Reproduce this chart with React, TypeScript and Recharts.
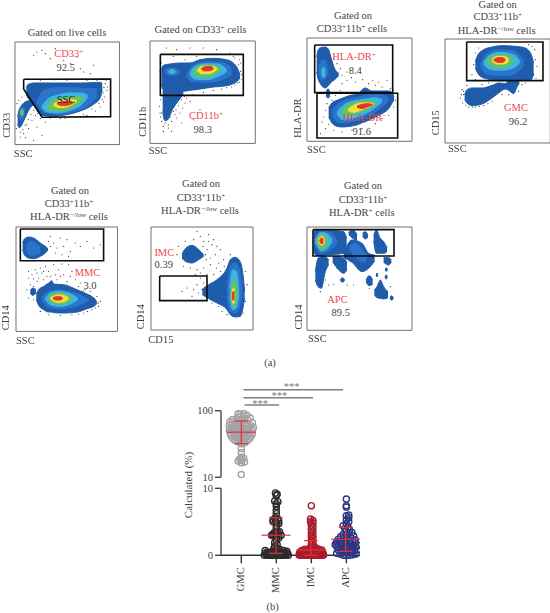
import React from 'react';
import { ComposedChart, Area, Line, Scatter, XAxis, YAxis, ZAxis, Label } from 'recharts';

type Row = [number, number, number];
type Pt = [number, number];

const SERIF = '"Liberation Serif", serif';
const LEVEL_COLORS = ['#1f5cab', '#2a74cc', '#3fb5dc', '#66c25e', '#f0e13f', '#e6352b'];

/* ---------- Panel 1: CD33 vs SSC ---------- */
const p1Main0: Row[] = [[78,262,282],[82,253,292],[90,250,300],[100,248,315],[110,248,330],[125,248,345],[160,248,348],[200,248,343],[240,248,332],[280,247,312],[300,246,292],[306,250,270]];
const p1Lobe0: Row[] = [[52,350,370],[56,330,382],[62,318,378],[70,308,362],[80,303,340],[90,300,322],[100,296,312],[105,298,305]];
const p1Lobe1: Row[] = [[56,335,345],[60,322,358],[66,320,356],[74,325,335]];
const p1Lobe2: Row[] = [[60,336,338],[63,328,346],[67,328,345],[70,335,338]];
const p1Main1: Row[] = [[110,305,307],[130,270,335],[170,262,342],[220,262,335],[260,265,318],[290,265,290]];
const p1Main2: Row[] = [[125,318,322],[140,298,335],[170,285,338],[210,278,330],[245,278,312],[262,285,292]];
const p1Main3: Row[] = [[140,318,322],[155,302,331],[185,293,332],[215,290,322],[240,288,305],[248,295,297]];
const p1Main4: Row[] = [[160,312,316],[175,302,322],[200,299,320],[220,298,310],[230,302,304]];
const p1Main5: Row[] = [[170,309,311],[185,305,316],[205,303,314],[218,306,308]];
const p1Gate: Pt[] = [[70,237],[331,236],[331,349],[125,351],[70,266],[70,237]];
const p1Dots: Pt[] = [[110,155],[125,150],[135,160],[165,145],[190,180],[210,190],[240,205],[250,215],[270,220],[280,195],[100,165],[230,170],[150,175],[305,235],[315,250],[320,270],[312,290],[310,305],[300,320],[285,332],[260,345],[240,350],[318,240],[322,260],[70,240],[85,235],[120,240],[160,238],[200,240],[260,240],[290,240],[65,290],[55,300],[60,395],[70,400],[85,385],[110,380],[125,405],[95,360],[105,345],[120,355],[75,375],[135,365],[180,355],[210,350],[50,310],[48,385],[75,412],[100,420],[60,410],[311,262],[309,278],[306,298],[296,310],[275,326],[250,342],[225,350],[195,354],[150,353],[112,340],[100,330],[92,342],[80,372],[68,388],[84,358]];

/* ---------- Panel 2: CD11b vs SSC ---------- */
const p2Main0: Row[] = [[484,210,255],[490,197,272],[510,193,275],[540,190,276],[570,190,272],[600,180,268],[640,176,262],[680,180,258],[700,190,252],[712,205,245],[720,225,235]];
const p2Tail0: Row[] = [[488,275,335],[494,272,362],[500,272,362],[520,272,325],[540,272,297],[550,270,284]];
const p2Spot1: Row[] = [[495,215,218],[505,206,227],[520,205,228],[540,214,218]];
const p2Spot2: Row[] = [[505,215,217],[512,210,222],[520,210,221],[527,215,217]];
const p2Peak1: Row[] = [[560,228,231],[575,200,245],[620,186,248],[665,188,240],[695,205,225]];
const p2Peak2: Row[] = [[570,222,226],[585,200,238],[620,192,240],[655,193,230],[680,210,216]];
const p2Peak3: Row[] = [[580,217,220],[595,201,231],[622,196,232],[648,198,222],[662,209,213]];
const p2Peak4: Row[] = [[592,210,213],[605,200,222],[625,199,222],[645,202,214],[652,207,209]];
const p2Peak5: Row[] = [[604,207,209],[615,201,214],[630,200,213],[640,205,208]];
const p2Gate: Pt[] = [[481,164],[730,164],[730,287],[481,287],[481,164]];
const p2Dots: Pt[] = [[722,190],[730,210],[718,180],[705,175],[725,225],[712,250],[695,262],[665,268],[640,272],[610,278],[580,285],[560,295],[555,310],[548,325],[540,340],[525,345],[515,365],[505,375],[495,370],[485,365],[490,380],[530,355],[520,335],[545,300],[570,305],[480,340],[482,300],[478,320],[500,145],[530,150],[570,145],[610,145],[650,150],[690,160],[700,170],[520,170],[555,180],[590,170],[640,165],[505,385],[490,395],[515,395],[545,370],[580,360],[600,330],[480,215],[484,190],[716,195],[722,215],[726,240],[718,248],[705,256],[680,264],[553,290],[535,318],[528,330],[512,352],[484,340],[482,352]];

/* ---------- Panel 3: HLA-DR vs SSC ---------- */
const p3Top0: Row[] = [[124,170,215],[128,150,235],[135,142,250],[150,140,263],[160,148,255],[168,175,245],[178,205,238],[190,218,226]];
const p3Tail0: Row[] = [[152,278,288],[158,265,293],[164,278,288]];
const p3Top1: Row[] = [[130,205,212],[140,180,240],[150,180,235],[158,210,215]];
const p3Top2: Row[] = [[138,213,217],[145,200,232],[150,212,222]];
const p3Low0: Row[] = [[160,322,350],[170,308,368],[185,300,378],[200,294,380],[225,285,378],[250,280,372],[258,270,368],[270,263,364],[290,272,355],[320,272,340],[340,272,325],[352,280,305],[356,290,298]];
const p3Low1: Row[] = [[170,335,340],[185,313,365],[210,300,368],[250,290,355],[290,282,340],[325,285,315],[340,295,300]];
const p3Low2: Row[] = [[185,335,340],[200,318,358],[235,302,352],[270,296,340],[300,292,322],[320,298,304]];
const p3Low3: Row[] = [[198,335,338],[215,315,347],[245,306,338],[280,300,325],[300,306,310]];
const p3Low4: Row[] = [[218,327,331],[235,315,336],[260,308,328],[285,308,318],[295,311,314]];
const p3Low5: Row[] = [[245,318,321],[260,312,325],[280,310,318],[292,313,315]];
const p3GateA: Pt[] = [[118,134],[352,134],[352,277],[118,277],[118,134]];
const p3GateB: Pt[] = [[125,279],[367,279],[367,413],[125,413],[125,279]];
const p3Dots: Pt[] = [[355,270],[345,265],[320,260],[300,255],[280,250],[240,245],[215,240],[200,250],[195,270],[180,285],[170,300],[155,310],[150,330],[145,350],[160,372],[175,390],[200,395],[230,390],[260,385],[300,370],[320,355],[340,345],[355,320],[360,300],[292,240],[310,245],[200,225],[215,215],[195,205],[185,190],[175,175],[335,240],[262,238],[228,232],[140,365],[150,385],[135,400]];

/* ---------- Panel 4: CD15 vs SSC ---------- */
const p4Top0: Row[] = [[600,185,205],[608,165,222],[625,150,235],[650,142,240],[680,138,243],[720,140,243],[750,145,242],[768,165,240],[775,190,222]];
const p4Low0: Row[] = [[568,285,300],[575,270,310],[590,265,318],[620,265,313],[650,257,295],[670,250,280],[690,252,268],[700,244,272],[715,244,282],[725,244,262],[732,242,250]];
const p4Top1: Row[] = [[615,195,200],[630,165,220],[665,150,228],[710,152,225],[745,180,200]];
const p4Top2: Row[] = [[625,187,193],[645,165,210],[675,158,212],[715,165,205],[733,183,189]];
const p4Top3: Row[] = [[635,183,187],[655,168,202],[680,165,203],[705,172,193],[715,180,185]];
const p4Top4: Row[] = [[650,180,184],[665,170,193],[685,170,193],[700,178,186]];
const p4Top5: Row[] = [[655,180,182],[668,174,188],[682,174,188],[690,179,182]];
const p4Gate: Pt[] = [[574,127],[803,127],[803,243],[574,243],[574,127]];
const p4Dots: Pt[] = [[780,180],[785,200],[778,150],[770,140],[760,135],[775,225],[782,235],[560,270],[555,295],[562,310],[580,322],[600,322],[625,318],[650,305],[680,285],[700,285],[730,275],[740,255],[750,250],[610,145],[600,160],[595,195],[590,225],[600,240],[640,250],[620,255],[575,258],[565,285],[565,275],[558,285],[572,316],[592,322],[612,320],[638,312]];

/* ---------- Panel 5: CD14 vs SSC ---------- */
const p5Top0: Row[] = [[67,205,225],[72,193,240],[85,187,250],[100,190,252],[120,205,245],[135,215,235],[143,222,226]];
const p5Top1: Row[] = [[78,212,228],[90,200,242],[105,205,240],[120,220,232]];
const p5Bump0: Row[] = [[90,348,356],[97,340,362],[107,345,355]];
const p5Low0: Row[] = [[108,358,375],[115,345,392],[130,335,405],[145,325,412],[155,318,412],[160,328,414],[190,330,415],[230,345,412],[260,358,402],[285,375,392],[290,383,385]];
const p5Low1: Row[] = [[125,368,372],[140,352,395],[170,345,402],[215,352,398],[250,365,385],[265,375,377]];
const p5Low2: Row[] = [[135,370,372],[150,355,390],[175,350,395],[205,355,390],[232,370,375]];
const p5Low3: Row[] = [[145,370,372],[155,360,384],[175,355,388],[200,360,384],[215,370,374]];
const p5Low4: Row[] = [[150,370,372],[160,364,379],[175,360,383],[195,364,379],[205,370,372]];
const p5Low5: Row[] = [[158,370,372],[168,366,376],[180,366,376],[187,370,372]];
const p5Gate: Pt[] = [[60,163],[310,163],[310,258],[60,258],[60,163]];
const p5Dots: Pt[] = [[145,200],[150,215],[160,205],[170,220],[180,190],[190,215],[200,195],[210,230],[225,205],[240,215],[260,200],[280,220],[300,210],[150,185],[165,235],[185,240],[205,245],[85,290],[95,300],[105,285],[115,310],[125,295],[135,275],[145,290],[160,270],[175,285],[190,300],[205,270],[215,290],[225,315],[240,325],[255,345],[270,350],[290,365],[300,380],[295,395],[275,405],[250,415],[90,330],[85,370],[80,345],[100,375],[110,320],[130,315],[170,315],[200,320],[120,410],[145,420],[180,422],[215,420],[100,312],[95,355],[85,310],[120,280],[150,305],[185,268],[210,305],[110,295],[235,335],[250,348],[268,362],[283,372],[294,385],[285,400],[262,410],[235,418],[180,305],[165,300],[140,305],[130,290],[100,335]];

/* ---------- Panel 6: CD14 vs CD15 ---------- */
const p6Top0: Row[] = [[545,238,250],[555,222,260],[575,212,265],[595,225,255],[610,240,245]];
const p6Right0: Row[] = [[606,343,360],[625,330,372],[650,315,385],[680,280,405],[690,255,420],[705,248,427],[720,262,425],[728,300,400],[733,350,370]];
const p6Right1: Row[] = [[680,345,365],[690,275,412],[705,265,415],[718,290,395],[725,345,360]];
const p6Right2: Row[] = [[688,340,365],[697,285,405],[708,290,400],[716,350,360]];
const p6Right3: Row[] = [[692,355,365],[699,315,395],[706,325,385],[710,355,365]];
const p6Right4: Row[] = [[694,360,368],[699,340,387],[703,345,380]];
const p6Right5: Row[] = [[695,360,366],[699,350,378],[702,358,368]];
const p6Gate: Pt[] = [[478,304],[620,304],[620,378],[478,378],[478,304]];
const p6Dots: Pt[] = [[590,170],[600,185],[610,200],[625,180],[635,210],[640,195],[620,225],[645,240],[660,225],[670,255],[655,265],[630,270],[610,280],[590,285],[570,280],[550,275],[535,215],[555,200],[580,195],[620,300],[600,310],[590,330],[580,345],[560,340],[545,350],[610,325],[595,355],[575,365],[660,290],[640,300],[690,240],[735,290],[740,330],[735,380],[728,415],[665,410],[680,420],[655,395],[635,385],[560,240],[530,240],[615,240],[650,215],[630,250],[600,295],[585,300],[605,345],[625,200],[608,215],[618,255],[648,280],[672,275]];

/* ---------- Panel 7: CD14 vs SSC (sparse) ---------- */
const p7A0: Row[] = [[115,170,230],[125,165,242],[150,165,240],[180,167,238],[205,170,235],[214,190,232]];
const p7B0: Row[] = [[220,172,178],[232,165,190],[245,178,198]];
const p7C0: Row[] = [[262,174,183],[270,170,192],[278,180,186]];
const p7D0: Row[] = [[295,182,198],[303,165,235],[315,190,235],[325,200,235],[335,218,230]];
const p7E0: Row[] = [[120,290,315],[128,250,335],[138,245,340],[150,245,290],[160,255,270]];
const p7F0: Row[] = [[172,245,260],[190,245,285],[205,250,295],[215,262,285]];
const p7G0: Row[] = [[205,235,248],[230,195,262],[260,205,290],[280,235,280],[298,240,258]];
const p7H0: Row[] = [[325,248,262],[340,248,270],[348,255,262]];
const p7I0: Row[] = [[195,314,316],[201,308,322],[208,314,316]];
const p7J0: Row[] = [[272,315,322],[282,302,332],[292,315,328]];
const p7K0: Row[] = [[297,345,360],[305,335,368],[315,315,370],[325,335,372],[338,350,368]];
const p7L0: Row[] = [[302,297,302],[305,295,305],[308,297,302]];
const p7M0: Row[] = [[329,282,286],[333,279,288],[337,282,286]];
const p7N0: Row[] = [[344,367,371],[349,362,376],[354,367,371]];
const p7O0: Row[] = [[329,304,308],[333,300,312],[336,304,308]];
const p7G1: Row[] = [[222,215,222],[240,205,245],[262,225,260],[275,245,255]];
const p7A1: Row[] = [[118,195,205],[135,168,235],[165,172,225],[185,198,208]];
const p7A2: Row[] = [[120,195,200],[138,172,228],[160,180,215],[170,195,200]];
const p7A3: Row[] = [[125,195,200],[140,178,222],[155,190,210]];
const p7A4: Row[] = [[130,195,200],[139,183,212],[148,195,201]];
const p7A5: Row[] = [[133,196,199],[139,188,207],[144,195,200]];
const p7Gate: Pt[] = [[113,164],[356,164],[356,243],[113,243],[113,164]];
const p7Dots: Pt[] = [[175,328],[235,330],[150,315],[215,330],[135,350],[345,335],[282,340],[160,330]];

/* ---------- Part (b): measured percentages per group ---------- */
const groupNames = ['GMC', 'MMC', 'IMC', 'APC'];
const gmcValues = [91,89.5,88,85,83,80,78,76,75,73.4,73,71,71,68.4,68,66,66,64.5,64,63,62,61,60.5,60,59,58,57.5,57,56,55.5,55,54,53.5,53,52,51.5,51,50,49.5,49,48,47.5,47,46.5,46,45.5,45,44.5,44,43,42.5,42,41.5,41,40.5,40,39.5,39,38.5,38,37,36.5,36,35,34.5,34,33,32,27,23.5,20,19.3,18.8,18.2,17.6,17,16.6,11];
const mmcValues = [0,0,0,0,0,0,0,0,0,0,0,0,0,0,0,0.1,0.1,0.1,0.1,0.1,0.2,0.2,0.2,0.2,0.3,0.3,0.3,0.3,0.4,0.4,0.4,0.5,0.5,0.5,0.6,0.6,0.7,0.7,0.8,0.9,1,1.1,1.3,1.6,1.9,2.3,2.6,2.8,2.9,3,3,3,3.1,3.2,3.3,3.4,3.5,3.6,4,4.4,4.7,4.9,5,5.1,5.2,5.3,5.4,5.6,6.2,6.7,7.3,7.7,8,8.1,8.9,9.1,9.3];
const imcValues = [0,0,0,0,0,0,0,0,0,0,0,0,0,0,0,0.1,0.1,0.1,0.1,0.1,0.1,0.1,0.2,0.2,0.2,0.2,0.2,0.2,0.2,0.3,0.3,0.3,0.3,0.3,0.3,0.4,0.4,0.4,0.4,0.4,0.5,0.5,0.5,0.5,0.6,0.6,0.6,0.6,0.7,0.7,0.7,0.8,0.8,0.8,0.9,0.9,1,1,1.1,1.2,1.4,1.6,1.9,2.2,2.5,2.8,3,3.3,3.6,3.9,4.2,4.5,4.8,5,5.2,5.4,7.4];
const apcValues = [0,0,0,0.1,0.2,0.2,0.3,0.4,0.5,0.5,0.6,0.7,0.8,0.8,0.9,1,1,1.1,1.2,1.2,1.3,1.3,1.4,1.4,1.5,1.5,1.6,1.6,1.7,1.7,1.8,1.8,1.9,1.9,2,2,2.1,2.1,2.2,2.2,2.3,2.4,2.5,2.6,2.7,2.8,2.9,3,3.1,3.3,3.4,3.6,3.8,4,4.2,4.4,4.7,5,5.3,5.6,5.9,6,7.2,7.4,8.4];
const means = [47.6, 3.0, 0.8, 2.4];
const uppers = [70, 5.6, 2.2, 4.2];
const lowers = [32, 0.3, 0, 0.6];
const groupColors = ['#a2a2a7', '#2c2c2e', '#a81c2e', '#2b3783'];
const brackets: [number, number, number][] = [[1.06, 3.91, 81], [1.06, 3.05, 49], [1.09, 2.08, 20]];

/* Column outline of each swarm: [value, half width]. */
const gmcWidth: Pt[] = [[11,0],[16.6,3.5],[20,3],[23,0],[27,0],[31,1],[33,4],[38,9],[47,12],[64,12],[80,9],[91,3]];
const mmcWidth: Pt[] = [[0,12],[0.9,11],[1.1,3],[2,1.5],[2.6,3],[3,5],[3.6,3],[4.2,1.5],[5,4],[5.6,3],[6,1],[8,2],[9.3,1]];
const imcWidth: Pt[] = [[0,12.5],[0.9,11],[1.2,3],[3,2],[5.4,2],[7.4,0]];
const apcWidth: Pt[] = [[0,9],[0.6,11.5],[1.5,11.5],[2.5,9],[3.5,6],[4.5,4],[6,3],[7,1],[8.4,0]];

const PX_PER_GROUP = 35;

function widthAt(outline: Pt[], v: number) {
  if (v <= outline[0][0]) return outline[0][1];
  for (let i = 1; i < outline.length; i++) {
    const [a, wa] = outline[i - 1], [b, wb] = outline[i];
    if (v <= b) return wa + ((v - a) / (b - a)) * (wb - wa);
  }
  return outline[outline.length - 1][1];
}

// Prism-like column scatter: places each value as close to the column centre as it can,
// spreading sideways only up to the column's read outline at that value.
function swarm(values: number[], group: number, toPx: (v: number) => number, gap: number, outline: Pt[]) {
  const placed: { x: number; y: number; px: number; off: number }[] = [];
  const sorted = [...values].sort((a, b) => a - b);
  for (const v of sorted) {
    const py = toPx(v);
    const limit = widthAt(outline, v);
    let best = 0, bestD = -1;
    for (let i = 0; ; i++) {
      const mag = Math.ceil(i / 2) * 0.8;
      if (mag > limit) break;
      const cand = i % 2 ? mag : -mag;
      let minD = Infinity;
      for (const p of placed) minD = Math.min(minD, Math.hypot(p.off - cand, p.px - py));
      if (minD >= gap) { best = cand; bestD = Infinity; break; }
      if (minD > bestD) { bestD = minD; best = cand; }
    }
    placed.push({ x: group + best / PX_PER_GROUP, y: v, px: py, off: best });
  }
  return placed;
}
const toLogPx = (v: number) => -67 * Math.log10(v);
const toLinPx = (v: number) => -6.7 * v;

const rowsOf = (rows: Row[]) => rows.map(([x, a, b]) => ({ x, band: [a, b] }));
const ptsOf = (pts: Pt[]) => pts.map(([x, y]) => ({ x, y }));

const Speck = (p: any) => <circle cx={p.cx} cy={p.cy} r={0.55} fill="#1c1c1c" />;

type Blob = { level: number; rows: Row[] };
type PanelProps = {
  frame: [number, number, number, number];
  xDom: [number, number];
  yDom: [number, number];
  blobs: Blob[];
  gates: Pt[][];
  dots: Pt[];
  xName: string;
  yName: string;
  xLab: [number, number];
  yLab: [number, number];
};

const LEFT_PAD = 16;
const BOTTOM_PAD = 20;

function FlowPanel({ frame, xDom, yDom, blobs, gates, dots, xName, yName, xLab, yLab }: PanelProps) {
  const [l, t, r, b] = frame;
  const w = r - l, h = b - t;
  const ox = l - LEFT_PAD, oy = t - 1;
  const outline: Pt[] = [[xDom[0], yDom[0]], [xDom[1], yDom[0]], [xDom[1], yDom[1]], [xDom[0], yDom[1]], [xDom[0], yDom[0]]];
  return (
    <div style={{ position: 'absolute', left: ox, top: oy, filter: 'blur(0.35px)' }}>
      <ComposedChart width={w + LEFT_PAD + 1} height={h + 1 + BOTTOM_PAD} margin={{ top: 1, right: 1, left: 0, bottom: 0 }}>
        <XAxis type="number" dataKey="x" domain={xDom} tick={false} axisLine={false} tickLine={false} height={BOTTOM_PAD}>
          <Label value={xName} content={() => (
            <text x={xLab[0] - ox} y={xLab[1] - oy} fontFamily={SERIF} fontSize={10.5} fill="#3d3d3d" dominantBaseline="middle">{xName}</text>
          )} />
        </XAxis>
        <YAxis type="number" domain={yDom} reversed tick={false} axisLine={false} tickLine={false} width={LEFT_PAD}>
          <Label value={yName} content={() => (
            <text transform={`translate(${yLab[0] - ox},${yLab[1] - oy}) rotate(-90)`} fontFamily={SERIF} fontSize={10.5} fill="#3d3d3d" textAnchor="middle" dominantBaseline="middle">{yName}</text>
          )} />
        </YAxis>
        <ZAxis range={[2, 2]} />
        <Line data={ptsOf(outline)} dataKey="y" type="linear" dot={false} stroke="#6f6f6f" strokeWidth={1} isAnimationActive={false} />
        <Scatter data={ptsOf(dots)} dataKey="y" shape={Speck} isAnimationActive={false} />
        {blobs.map((bl, i) => (
          <Area key={i} data={rowsOf(bl.rows)} dataKey="band" type="monotone" fill={LEVEL_COLORS[bl.level]} fillOpacity={1} stroke={LEVEL_COLORS[bl.level]} strokeWidth={1} dot={false} activeDot={false} isAnimationActive={false} />
        ))}
        {gates.map((g, i) => (
          <Line key={i} data={ptsOf(g)} dataKey="y" type="linear" dot={false} stroke="#0c0c0c" strokeWidth={1.6} isAnimationActive={false} />
        ))}
      </ComposedChart>
    </div>
  );
}

const lv = (level: number, rows: Row[]): Blob => ({ level, rows });

const panels: PanelProps[] = [
  { frame: [14.7, 41.7, 119.3, 144.3], xDom: [44, 358], yDom: [125, 433],
    blobs: [lv(0, p1Lobe0), lv(1, p1Lobe1), lv(3, p1Lobe2), lv(0, p1Main0), lv(1, p1Main1), lv(2, p1Main2), lv(3, p1Main3), lv(4, p1Main4), lv(5, p1Main5)],
    gates: [p1Gate], dots: p1Dots, xName: 'SSC', yName: 'CD33', xLab: [13.5, 154], yLab: [7, 125] },
  { frame: [150, 41.3, 255.3, 143.7], xDom: [450, 766], yDom: [124, 431],
    blobs: [lv(0, p2Tail0), lv(0, p2Main0), lv(1, p2Spot1), lv(2, p2Spot2), lv(1, p2Peak1), lv(2, p2Peak2), lv(3, p2Peak3), lv(4, p2Peak4), lv(5, p2Peak5)],
    gates: [p2Gate], dots: p2Dots, xName: 'SSC', yName: 'CD11b', xLab: [148.7, 152], yLab: [143.3, 122] },
  { frame: [306.7, 37.7, 411.7, 141], xDom: [95, 410], yDom: [113, 423],
    blobs: [lv(0, p3Top0), lv(0, p3Tail0), lv(1, p3Top1), lv(2, p3Top2), lv(0, p3Low0), lv(1, p3Low1), lv(2, p3Low2), lv(3, p3Low3), lv(4, p3Low4), lv(5, p3Low5)],
    gates: [p3GateA, p3GateB], dots: p3Dots, xName: 'SSC', yName: 'HLA-DR', xLab: [306.7, 150], yLab: [298, 118] },
  { frame: [444.7, 39.3, 550, 143.3], xDom: [509, 825], yDom: [118, 430],
    blobs: [lv(0, p4Low0), lv(0, p4Top0), lv(1, p4Top1), lv(2, p4Top2), lv(3, p4Top3), lv(4, p4Top4), lv(5, p4Top5)],
    gates: [p4Gate], dots: p4Dots, xName: 'SSC', yName: 'CD15', xLab: [447.7, 150], yLab: [436, 123] },
  { frame: [15.7, 227.3, 117.3, 331.7], xDom: [47, 352], yDom: [157, 470],
    blobs: [lv(0, p5Top0), lv(1, p5Top1), lv(0, p5Bump0), lv(0, p5Low0), lv(1, p5Low1), lv(2, p5Low2), lv(3, p5Low3), lv(4, p5Low4), lv(5, p5Low5)],
    gates: [p5Gate], dots: p5Dots, xName: 'SSC', yName: 'CD14', xLab: [15.7, 342], yLab: [6, 318] },
  { frame: [150.7, 227.3, 252.7, 330.3], xDom: [452, 758], yDom: [157, 466],
    blobs: [lv(0, p6Top0), lv(0, p6Right0), lv(1, p6Right1), lv(2, p6Right2), lv(3, p6Right3), lv(4, p6Right4), lv(5, p6Right5)],
    gates: [p6Gate], dots: p6Dots, xName: 'CD15', yName: 'CD14', xLab: [148, 340.7], yLab: [141.7, 317] },
  { frame: [306.7, 227, 411.7, 330.3], xDom: [95, 410], yDom: [156, 466],
    blobs: [lv(0, p7A0), lv(0, p7B0), lv(0, p7C0), lv(0, p7D0), lv(0, p7E0), lv(0, p7F0), lv(0, p7G0), lv(1, p7G1), lv(0, p7H0), lv(0, p7I0), lv(0, p7J0), lv(0, p7K0), lv(0, p7L0), lv(0, p7M0), lv(0, p7N0), lv(0, p7O0), lv(1, p7A1), lv(2, p7A2), lv(3, p7A3), lv(4, p7A4), lv(5, p7A5)],
    gates: [p7Gate], dots: p7Dots, xName: 'SSC', yName: 'CD14', xLab: [307.7, 340], yLab: [299, 317] },
];

const Sup = ({ children }: { children: React.ReactNode }) => (
  <span style={{ fontSize: '0.68em', verticalAlign: '0.42em', lineHeight: 0 }}>{children}</span>
);
const Cd33Cd11 = () => <>CD33<Sup>+</Sup>11b<Sup>+</Sup></>;
const LowCells = () => <>HLA-DR<Sup>−/<i>low</i></Sup> cells</>;
const PosCells = () => <>HLA-DR<Sup>+</Sup> cells</>;

const GREY = '#444';
const RED = '#ec4a50';

const captions: [number, number, React.ReactNode, string?][] = [
  [67, 33, 'Gated on live cells'],
  [200.5, 30, <>Gated on CD33<Sup>+</Sup> cells</>],
  [353, 16, 'Gated on'], [352, 29.3, <><Cd33Cd11 /> cells</>],
  [497.7, 5, 'Gated on'], [497.8, 17.3, <Cd33Cd11 />], [496.7, 31, <LowCells />],
  [70, 191, 'Gated on'], [69, 204.3, <Cd33Cd11 />], [69, 217.3, <LowCells />],
  [201, 184.3, 'Gated on'], [201, 197.7, <Cd33Cd11 />], [200, 211, <LowCells />],
  [363, 186, 'Gated on'], [363, 199.7, <Cd33Cd11 />], [361.7, 213.3, <PosCells />],
  [68.7, 54, <>CD33<Sup>+</Sup></>, RED], [65.8, 68.3, '92.5'], [66, 100, 'SSC', '#222'],
  [206, 116, <>CD11b<Sup>+</Sup></>, RED], [202.8, 130, '98.3'],
  [354, 57.3, <>HLA-DR<Sup>+</Sup></>, RED], [355.3, 70.7, '8.4'],
  [364.5, 118.3, <>HLA-DR<Sup>−</Sup></>, RED], [361.8, 131.7, '91.6'],
  [516, 107.7, 'GMC', RED], [518, 122.3, '96.2'],
  [87.5, 273.3, 'MMC', RED], [90, 286, '3.0'],
  [164.3, 253.3, 'IMC', RED], [163.7, 265, '0.39'],
  [337.5, 300, 'APC', RED], [340.8, 313.3, '89.5'],
  [270, 363.3, '(a)'], [272.7, 606.7, '(b)'],
  [291.7, 387, '***', '#777'], [279.3, 396, '***', '#777'], [260, 404, '***', '#777'],
];

const whiskerLines = (i: number, group: number) => [
  [{ x: group - 0.415, y: means[i] }, { x: group + 0.415, y: means[i] }],
  [{ x: group - 0.2, y: uppers[i] }, { x: group + 0.2, y: uppers[i] }],
  [{ x: group - 0.2, y: lowers[i] }, { x: group + 0.2, y: lowers[i] }],
  [{ x: group, y: lowers[i] }, { x: group, y: uppers[i] }],
];

const serifTick = { fontFamily: SERIF, fontSize: 10.5, fill: '#3d3d3d' };

function GroupTick(p: any) {
  return (
    <text transform={`translate(${p.x},${p.y + 2}) rotate(-90)`} fontFamily={SERIF} fontSize={10.5} fill="#3d3d3d" textAnchor="end" dominantBaseline="middle">
      {groupNames[p.payload.value - 1]}
    </text>
  );
}

const dotStyle = (i: number) => ({ fill: 'none', stroke: groupColors[i], strokeWidth: 1.4 });
const WHISKER = '#ea2f38';

// Transparent layer over a segment so the mean ± SD marks sit above the circles.
function WhiskerLayer({ top, height, marginTop, marginBottom, log, yDom, groups }: { top: number; height: number; marginTop: number; marginBottom: number; log: boolean; yDom: [number, number]; groups: number[] }) {
  return (
    <div style={{ position: 'absolute', left: 221, top }}>
      <ComposedChart width={139} height={height} margin={{ top: marginTop, right: 0, left: 0, bottom: marginBottom }}>
        <XAxis type="number" dataKey="x" domain={[0.42, 4.39]} hide />
        <YAxis type="number" scale={log ? 'log' : 'linear'} domain={yDom} hide />
        {groups.flatMap(i => whiskerLines(i, i + 1).map((d, j) => (
          <Line key={`${i}-${j}`} data={d} dataKey="y" dot={false} stroke={WHISKER} strokeWidth={1.2} isAnimationActive={false} />
        )))}
      </ComposedChart>
    </div>
  );
}

export default function App() {
  const gmc = swarm(gmcValues, 1, toLogPx, 3, gmcWidth);
  const mmc = swarm(mmcValues, 2, toLinPx, 2.6, mmcWidth);
  const imc = swarm(imcValues, 3, toLinPx, 2.2, imcWidth);
  const apc = swarm(apcValues, 4, toLinPx, 3, apcWidth);
  return (
    <div style={{ position: 'absolute', left: 0, top: 0, width: 550, height: 613, overflow: 'hidden', background: '#fff' }}>
      {panels.map((p, i) => <FlowPanel key={i} {...p} />)}

      {/* significance brackets */}
      <div style={{ position: 'absolute', left: 221, top: 385 }}>
        <ComposedChart width={139} height={25} margin={{ top: 0, right: 0, left: 0, bottom: 0 }}>
          <XAxis type="number" dataKey="x" domain={[0.42, 4.39]} hide />
          <YAxis type="number" domain={[0, 100]} hide />
          {brackets.map(([a, b, lvl], i) => (
            <Line key={i} data={[{ x: a, y: lvl }, { x: b, y: lvl }]} dataKey="y" dot={false} stroke="#808080" strokeWidth={1.5} isAnimationActive={false} />
          ))}
        </ComposedChart>
      </div>

      {/* upper, log segment */}
      <div style={{ position: 'absolute', left: 191, top: 405 }}>
        <ComposedChart width={169} height={78} margin={{ top: 5.7, right: 0, left: 0, bottom: 5.7 }}>
          <XAxis type="number" dataKey="x" domain={[0.42, 4.39]} hide />
          <YAxis type="number" scale="log" domain={[10, 100]} ticks={[10, 100]} width={30} tick={serifTick} stroke="#444" strokeWidth={1.4} tickSize={6} />
          <ZAxis range={[30, 30]} />
          <Scatter data={gmc} dataKey="y" shape="circle" {...dotStyle(0)} isAnimationActive={false} />
        </ComposedChart>
      </div>
      <WhiskerLayer top={405} height={78} marginTop={5.7} marginBottom={5.7} log yDom={[10, 100]} groups={[0]} />

      {/* lower, linear segment */}
      <div style={{ position: 'absolute', left: 191, top: 483 }}>
        <ComposedChart width={169} height={110} margin={{ top: 5.3, right: 0, left: 0, bottom: 0 }}>
          <XAxis type="number" dataKey="x" domain={[0.42, 4.39]} ticks={[1, 2, 3, 4]} tick={<GroupTick />} height={110 - 5.3 - 67} stroke="#333" strokeWidth={1.4} tickSize={8} />
          <YAxis type="number" domain={[0, 10]} ticks={[0, 10]} width={30} tick={serifTick} stroke="#444" strokeWidth={1.4} tickSize={6} />
          <ZAxis range={[30, 30]} />
          <Scatter data={mmc} dataKey="y" shape="circle" {...dotStyle(1)} isAnimationActive={false} />
          <Scatter data={imc} dataKey="y" shape="circle" {...dotStyle(2)} isAnimationActive={false} />
          <Scatter data={apc} dataKey="y" shape="circle" {...dotStyle(3)} isAnimationActive={false} />
        </ComposedChart>
      </div>
      <WhiskerLayer top={483} height={110} marginTop={5.3} marginBottom={37.7} log={false} yDom={[0, 10]} groups={[1, 2, 3]} />

      <div style={{ position: 'absolute', left: 188, top: 484.7, transform: 'translate(-50%,-50%) rotate(-90deg)', fontFamily: SERIF, fontSize: 11, color: '#3d3d3d', whiteSpace: 'nowrap' }}>Calculated (%)</div>

      {captions.map(([x, y, node, color], i) => (
        <div key={i} style={{ position: 'absolute', left: x, top: y, transform: 'translate(-50%,-50%)', fontFamily: SERIF, fontSize: 10.5, lineHeight: '12px', color: color || GREY, whiteSpace: 'nowrap' }}>{node}</div>
      ))}
    </div>
  );
}
